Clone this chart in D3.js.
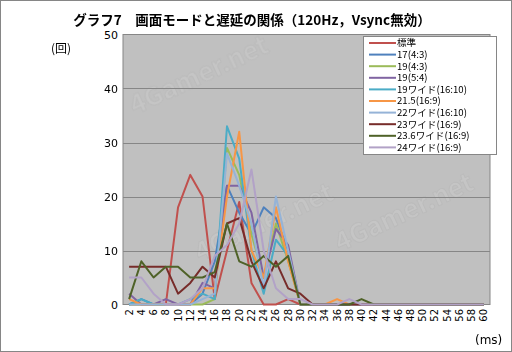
<!DOCTYPE html>
<html>
<head>
<meta charset="utf-8">
<script src="https://cdn.jsdelivr.net/npm/d3@7"></script>
<style>
body { margin: 0; background: #fff; }
text { font-family: "Noto Sans CJK JP", "DejaVu Sans", sans-serif; fill: #000; }
</style>
</head>
<body>
<svg width="512" height="352"></svg>
<script>
// **** data ****
var xLabels = d3.range(2, 62, 2);
var yTicks = [0, 10, 20, 30, 40, 50];

var seriesNames = ['標準', '17(4:3)', '19(4:3)', '19(5:4)', '19ワイド(16:10)', '21.5(16:9)',
    '22ワイド(16:10)', '23ワイド(16:9)', '23.6ワイド(16:9)', '24ワイド(16:9)'];
var seriesColors = ['#C0504D', '#4F81BD', '#9BBB59', '#8064A2', '#4BACC6', '#F79646',
    '#95B3D7', '#772C2A', '#4F6228', '#B2A2C7'];

//                 2  4  6  8 10 12 14 16 18 20 22 24 26 28 30 32 34 36 38 40 42 ...
var hyoujun  = [0, 0, 0, 0, 18, 24, 20, 1, 10, 19, 4, 0, 0, 1, 0, 0, 0, 0, 0, 0, 0, 0, 0, 0, 0, 0, 0, 0, 0, 0];
var s17_43   = [0, 1, 0, 0, 0, 0, 2, 8, 22, 17, 13, 18, 16, 10, 0, 0, 0, 0, 0, 0, 0, 0, 0, 0, 0, 0, 0, 0, 0, 0];
var s19_43   = [0, 0, 0, 0, 0, 0, 0, 1, 29, 24, 13, 5, 15, 8, 0, 0, 0, 0, 0, 0, 0, 0, 0, 0, 0, 0, 0, 0, 0, 0];
var s19_54   = [2, 0, 0, 1, 0, 0, 4, 3, 22, 22, 17, 5, 14, 11, 0, 0, 0, 0, 0, 0, 0, 0, 0, 0, 0, 0, 0, 0, 0, 0];
var s19w     = [0, 1, 0, 0, 0, 1, 2, 1, 33, 27, 10, 2, 12, 9, 0, 0, 0, 0, 0, 0, 0, 0, 0, 0, 0, 0, 0, 0, 0, 0];
var s215     = [1, 0, 0, 0, 0, 0, 3, 3, 20, 32, 10, 5, 18, 8, 0, 0, 0, 1, 0, 0, 0, 0, 0, 0, 0, 0, 0, 0, 0, 0];
var s22w     = [0, 0, 0, 0, 0, 0, 1, 2, 28, 22, 15, 3, 20, 10, 0, 0, 0, 0, 0, 0, 0, 0, 0, 0, 0, 0, 0, 0, 0, 0];
var s23w     = [7, 7, 7, 7, 2, 4, 7, 5, 15, 16, 8, 3, 8, 3, 2, 0, 0, 0, 0, 0, 0, 0, 0, 0, 0, 0, 0, 0, 0, 0];
var s236w    = [1, 8, 5, 7, 7, 5, 5, 6, 15, 8, 7, 9, 7, 9, 0, 0, 0, 0, 0, 1, 0, 0, 0, 0, 0, 0, 0, 0, 0, 0];
var s24w     = [5, 5, 2, 0, 0, 1, 3, 9, 11, 15, 25, 10, 3, 1, 1, 0, 0, 0, 1, 0, 0, 0, 0, 0, 0, 0, 0, 0, 0, 0];

var seriesValues = [hyoujun, s17_43, s19_43, s19_54, s19w, s215, s22w, s23w, s236w, s24w];

// **** scales, axes ****
var svg = d3.select('svg');

svg.append('rect')
    .attr('x', 0.5).attr('y', 0.5).attr('width', 511).attr('height', 351)
    .attr('fill', '#fff').attr('stroke', '#868686');

var xScale = d3.scaleBand().domain(xLabels).range([123, 490]);
var yScale = d3.scaleLinear().domain([0, 50]).range([304.5, 34.5]);

svg.append('rect')
    .attr('x', 123).attr('y', 34.5)
    .attr('width', 367).attr('height', 270)
    .attr('fill', '#C0C0C0')
    .attr('stroke', '#868686');

// faint watermark, kept inside the plot and clear of the legend
var wm = svg.append('g').attr('opacity', 0.08);
[[135, 115], [200, 262], [340, 252]].forEach(function(p) {
    wm.append('text')
        .text('4Gamer.net')
        .attr('transform', 'translate(' + p[0] + ',' + p[1] + ') rotate(-25)')
        .style('font-size', '26px')
        .style('font-weight', 'bold')
        .style('fill', '#ffffff')
        .style('stroke', '#888')
        .style('stroke-width', '1px');
});

svg.append('g').attr('class', 'grid')
    .selectAll('line')
    .data(yTicks.slice(1, 5))
    .enter().append('line')
    .attr('x1', 123).attr('x2', 490)
    .attr('y1', function(d) { return Math.round(yScale(d)) + 0.5; })
    .attr('y2', function(d) { return Math.round(yScale(d)) + 0.5; })
    .attr('stroke', '#868686');

var yAxis = svg.append('g')
    .attr('transform', 'translate(118,0)')
    .call(d3.axisLeft(yScale).tickValues(yTicks).tickSize(0).tickPadding(0));
yAxis.select('.domain').remove();
yAxis.selectAll('text').style('font-size', '11px').style('font-family', '"DejaVu Sans", sans-serif');

var xAxis = svg.append('g')
    .attr('transform', 'translate(0,305)')
    .call(d3.axisBottom(xScale).tickSize(0).tickPadding(0));
xAxis.select('.domain').remove();
xAxis.selectAll('text')
    .style('font-size', '10px')
    .style('font-family', '"DejaVu Sans", sans-serif')
    .attr('text-anchor', 'end')
    .attr('dy', '0.35em')
    .attr('transform', 'translate(0,4) rotate(-90)')
    .attr('x', 0).attr('y', 0);

// **** title and labels ****
svg.append('text')
    .text('グラフ7　画面モードと遅延の関係（120Hz，Vsync無効）')
    .attr('x', 252).attr('y', 25)
    .attr('text-anchor', 'middle')
    .style('font-size', '13.5px')
    .style('font-weight', 'bold');

svg.append('text')
    .text('(回)')
    .attr('x', 51).attr('y', 53)
    .style('font-size', '12px');

svg.append('text')
    .text('(ms)')
    .attr('x', 475).attr('y', 344)
    .style('font-size', '12px')
    .style('font-family', '"DejaVu Sans", sans-serif');

// **** lines ****
var line = d3.line()
    .x(function(d, i) { return xScale(xLabels[i]) + xScale.bandwidth() / 2; })
    .y(function(d) { return yScale(d); });

var plot = svg.append('g');
seriesValues.forEach(function(vals, k) {
    plot.append('path')
        .datum(vals)
        .attr('d', line)
        .attr('fill', 'none')
        .attr('stroke', seriesColors[k])
        .attr('stroke-width', 2)
        .attr('stroke-linejoin', 'round');
});

// **** legend ****
var legend = svg.append('g').attr('transform', 'translate(363,36)');
legend.append('rect')
    .attr('x', 0.5).attr('y', 0.5).attr('width', 133).attr('height', 118)
    .attr('fill', '#fff').attr('stroke', '#868686');

seriesNames.forEach(function(name, k) {
    var g = legend.append('g').attr('transform', 'translate(0,' + (7 + k * 11.6) + ')');
    g.append('line')
        .attr('x1', 6).attr('x2', 33)
        .attr('y1', 0).attr('y2', 0)
        .attr('stroke', seriesColors[k]).attr('stroke-width', 2);
    g.append('text')
        .text(name)
        .attr('x', 34).attr('y', 0)
        .attr('dy', '0.36em')
        .style('font-size', '9.6px');
});
</script>
</body>
</html>
